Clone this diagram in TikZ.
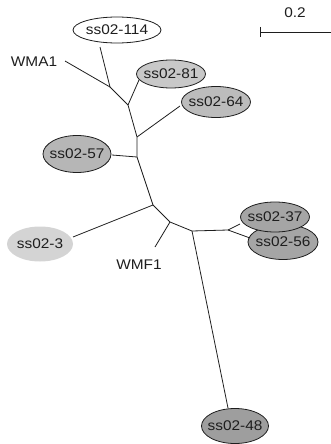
\documentclass[tikz,border=0pt]{standalone}
\usepackage{fontspec}
\newfontfamily\labfont[FakeStretch=1.1]{Liberation Sans}
\usetikzlibrary{shapes.geometric,calc}
\definecolor{cA}{RGB}{200,200,200}
\definecolor{cB}{RGB}{188,188,188}
\definecolor{cC}{RGB}{182,182,182}
\definecolor{cD}{RGB}{212,212,212}
\definecolor{cE}{RGB}{165,165,165}
\definecolor{cF}{RGB}{158,158,158}
\definecolor{ink}{RGB}{30,30,30}
\newcommand{\zlb}[1]{\makebox[0pt]{\labfont\fontsize{14pt}{14pt}\selectfont #1}}
\begin{document}
\begin{tikzpicture}[x=1pt,y=-1pt,
  leaf/.style={ellipse,draw=ink,line width=0.8pt,inner sep=0pt,text=ink},
  tag/.style={inner sep=0pt,text=ink,font=\labfont\fontsize{14pt}{14pt}\selectfont},
  br/.style={draw=ink,line width=0.8pt}]
\useasboundingbox (0,0) rectangle (331,444);
% leaves
\node[leaf,fill=white,minimum width=88pt,minimum height=26pt] (n114) at (117,30) {\zlb{ss02-114}};
\node[leaf,fill=cA,minimum width=69pt,minimum height=28pt] (n81) at (171,74) {\zlb{ss02-81}};
\node[leaf,fill=cB,minimum width=69pt,minimum height=31pt] (n64) at (216,102) {\zlb{ss02-64}};
\node[leaf,fill=cC,minimum width=68pt,minimum height=37pt] (n57) at (77,154) {\zlb{ss02-57}};
\node[leaf,draw=none,fill=cD,minimum width=66pt,minimum height=35pt] (n3) at (40,244) {\zlb{ss02-3}};
\node[leaf,fill=cE,minimum width=70pt,minimum height=35pt] (n56) at (283,242) {\zlb{ss02-56}};
\node[leaf,fill=cE,minimum width=69pt,minimum height=30pt] (n37) at (275,217) {\zlb{ss02-37}};
\node[leaf,fill=cF,minimum width=67pt,minimum height=35pt] (n48) at (235,426) {\zlb{ss02-48}};
% labels
\node[tag] (wma1) at (34,62) {WMA1};
\node[tag] (wmf1) at (139,265) {WMF1};
\node[tag] (sc) at (295,13) {0.2};
% junctions
\coordinate (j1) at (110,87);
\coordinate (j2) at (128,105);
\coordinate (j3) at (137,137);
\coordinate (j4) at (137,157);
\coordinate (j5) at (153,205);
\coordinate (j6) at (170,222);
\coordinate (j7) at (192,231);
\coordinate (j8) at (228,230);
% branches
\draw[br] ($(wma1.center)+(31,-1)$) -- (j1);
\draw[br] ($(n114.center)+(-17,17)$) -- (j1);
\draw[br] (j1) -- (j2) -- (j3) -- (j4) -- (j5) -- (j6) -- (j7) -- (j8);
\draw[br] (j2) -- ($(n81.center)+(-32,6)$);
\draw[br] (j3) -- ($(n64.center)+(-36,4)$);
\draw[br] (j4) -- ($(n57.center)+(35,1)$);
\draw[br] (j5) -- ($(n3.center)+(33,-7)$);
\draw[br] (j6) -- ($(wmf1.center)+(16,-18)$);
\draw[br] (j8) -- ($(n37.center)+(-35,7)$);
\draw[br] (j8) -- ($(n56.center)+(-33,-4)$);
\draw[br] (j7) -- ($(n48.center)+(-7,-18)$);
% scale bar
\coordinate (sb1) at (260,32);
\coordinate (sb2) at (331,32);
\draw[br] (sb1) -- (sb2);
\draw[br] ($(sb1)+(0,-5)$) -- ($(sb1)+(0,5)$);
\end{tikzpicture}
\end{document}
